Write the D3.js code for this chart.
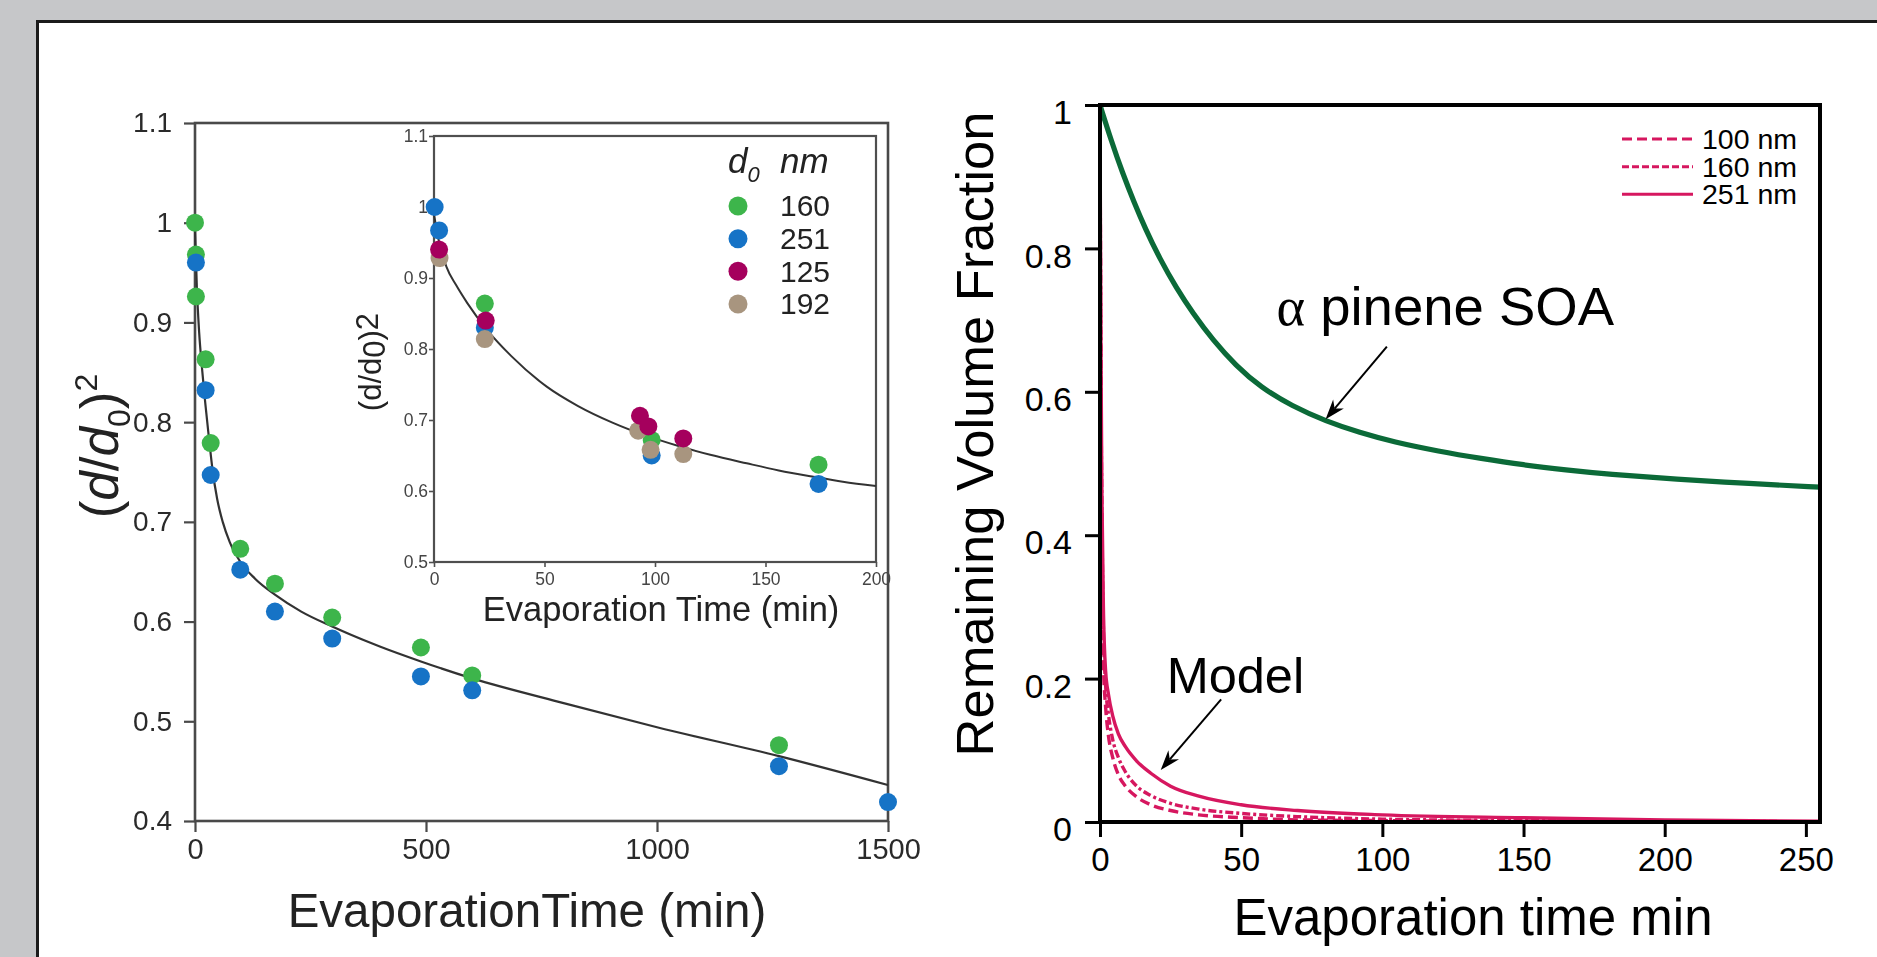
<!DOCTYPE html>
<html>
<head>
<meta charset="utf-8">
<script src="https://cdn.jsdelivr.net/npm/d3@7"></script>
<style>
  html, body { margin: 0; padding: 0; background: #c6c7c9; }
  svg { display: block; }
</style>
</head>
<body>
<svg id="fig" width="1877" height="957"></svg>
<script>
// ---------- Left panel: (d/d0)^2 against evaporation time ----------
const mainTicksY = [0.4, 0.5, 0.6, 0.7, 0.8, 0.9, 1.0, 1.1];
const mainTickLabelsY = ["0.4", "0.5", "0.6", "0.7", "0.8", "0.9", "1", "1.1"];
const mainTicksX = [0, 500, 1000, 1500];
const mainTickLabelsX = ["0", "500", "1000", "1500"];

// measured droplets, d0 = 160 nm and 251 nm
const mainTime160 = [0, 2, 2, 23, 34, 98, 173, 297, 489, 600, 1264];
const mainFrac160 = [1.000, 0.968, 0.926, 0.863, 0.779, 0.673, 0.638, 0.604, 0.574, 0.546, 0.476];
const mainTime251 = [2, 23, 34, 98, 173, 297, 489, 600, 1264, 1500];
const mainFrac251 = [0.960, 0.832, 0.747, 0.652, 0.610, 0.583, 0.545, 0.531, 0.455, 0.419];

// fitted curve through the long run
const mainFitTime = [0, 4, 9, 15, 22, 30, 38, 48, 60, 75, 98, 130, 173, 230, 297, 400, 489, 600, 800, 1000, 1264, 1500];
const mainFitFrac = [0.995, 0.935, 0.89, 0.855, 0.82, 0.785, 0.752, 0.723, 0.70, 0.68, 0.66, 0.643, 0.627, 0.61, 0.595, 0.575, 0.56, 0.543, 0.518, 0.494, 0.465, 0.436];

// inset: first 200 minutes, four initial diameters
const insetTicksY = [0.5, 0.6, 0.7, 0.8, 0.9, 1.0, 1.1];
const insetTickLabelsY = ["0.5", "0.6", "0.7", "0.8", "0.9", "1", "1.1"];
const insetTicksX = [0, 50, 100, 150, 200];
const insetTickLabelsX = ["0", "50", "100", "150", "200"];

const insetDiameters = ["160", "251", "125", "192"];
const insetColors = ["#3db54b", "#1673c6", "#a5005d", "#a8957f"];
const insetTime160 = [23, 98.5, 174];
const insetFrac160 = [0.864, 0.672, 0.637];
const insetTime251 = [0.3, 2.3, 23, 98.5, 174];
const insetFrac251 = [1.0, 0.967, 0.83, 0.65, 0.61];
const insetTime125 = [2.3, 23.4, 93.2, 97, 112.8];
const insetFrac125 = [0.94, 0.84, 0.706, 0.691, 0.674];
const insetTime192 = [2.5, 23, 92.4, 98, 112.8];
const insetFrac192 = [0.928, 0.814, 0.685, 0.658, 0.652];

const insetFitTime = [0, 2, 5.6, 10, 15, 24, 35, 51, 65, 81, 95, 111, 125, 141.5, 156, 171.7, 185, 200];
const insetFitFrac = [0.99, 0.955, 0.916, 0.89, 0.865, 0.827, 0.79, 0.747, 0.72, 0.696, 0.679, 0.663, 0.651, 0.639, 0.629, 0.62, 0.613, 0.607];

// ---------- Right panel: remaining volume fraction ----------
const rightTicksY = [0, 0.2, 0.4, 0.6, 0.8, 1];
const rightTickLabelsY = ["0", "0.2", "0.4", "0.6", "0.8", "1"];
const rightTicksX = [0, 50, 100, 150, 200, 250];
const rightTickLabelsX = ["0", "50", "100", "150", "200", "250"];

const soaTime = [0, 4, 8, 12, 16, 21, 27, 33, 40, 48, 57, 68, 80, 92, 104, 120, 135, 150, 165, 180, 204, 230, 255];
const soaFrac = [1.0, 0.950, 0.905, 0.865, 0.828, 0.787, 0.745, 0.709, 0.672, 0.637, 0.606, 0.580, 0.559, 0.543, 0.530, 0.517, 0.507, 0.498, 0.491, 0.485, 0.478, 0.472, 0.467];

const modelLabels = ["100 nm", "160 nm", "251 nm"];
const modelTime = [0, 0.3, 0.7, 1.2, 2, 3, 4.5, 6.5, 9, 13, 18, 25, 35, 50, 70, 100, 150, 200, 255];
const model100 = [1.0, 0.60, 0.35, 0.22, 0.16, 0.12, 0.09, 0.066, 0.05, 0.035, 0.024, 0.016, 0.010, 0.006, 0.003, 0.002, 0.001, 0.0005, 0];
const model160 = [1.0, 0.65, 0.42, 0.27, 0.19, 0.15, 0.115, 0.09, 0.07, 0.05, 0.037, 0.026, 0.018, 0.012, 0.0075, 0.004, 0.002, 0.001, 0.0005];
const model251 = [1.0, 0.68, 0.45, 0.30, 0.21, 0.178, 0.148, 0.123, 0.105, 0.085, 0.068, 0.050, 0.036, 0.024, 0.016, 0.010, 0.006, 0.003, 0.001];

const pink = "#d6175f";
const soaGreen = "#0b6a38";

// ---------- drawing ----------
const svg = d3.select("#fig");
const defs = svg.append("defs");
defs.append("filter").attr("id", "soft")
  .attr("x", "-5%").attr("y", "-5%").attr("width", "110%").attr("height", "110%")
  .append("feGaussianBlur").attr("stdDeviation", 0.65);

svg.append("rect").attr("width", 1877).attr("height", 957).attr("fill", "#c6c7c9");
svg.append("rect").attr("x", 37).attr("y", 21).attr("width", 1877 - 37).attr("height", 957 - 21).attr("fill", "#fff");
svg.append("path").attr("d", "M37.5,957 V21.5 H1877")
  .attr("fill", "none").attr("stroke", "#1b1b1b").attr("stroke-width", 3);

const zip = (a, b) => a.map((v, i) => [v, b[i]]);
const sans = "'Liberation Sans', Arial, sans-serif";

function styleAxis(g, size, fill, sw, col) {
  g.select(".domain").remove();
  g.selectAll(".tick line").attr("stroke", col).attr("stroke-width", sw);
  g.selectAll(".tick text").attr("font-family", sans).attr("font-size", size).attr("fill", fill);
}

// ===== left panel =====
const L = svg.append("g").attr("filter", "url(#soft)");
const mx = d3.scaleLinear().domain([0, 1500]).range([195, 888]);
const my = d3.scaleLinear().domain([0.4, 1.1]).range([821, 123]);
const grey = "#4a4a4a";

L.append("rect")
  .attr("x", mx(0)).attr("y", my(1.1))
  .attr("width", mx(1500) - mx(0)).attr("height", my(0.4) - my(1.1))
  .attr("fill", "#fff").attr("stroke", grey).attr("stroke-width", 2.6);

L.append("g").attr("transform", `translate(${mx(0)},0)`)
  .call(d3.axisLeft(my).tickValues(mainTicksY).tickFormat((d, i) => mainTickLabelsY[i]).tickSize(11).tickPadding(12))
  .call(g => styleAxis(g, 28, "#2b2b2b", 2.2, grey));
L.append("g").attr("transform", `translate(0,${my(0.4)})`)
  .call(d3.axisBottom(mx).tickValues(mainTicksX).tickFormat((d, i) => mainTickLabelsX[i]).tickSize(11).tickPadding(6))
  .call(g => styleAxis(g, 29, "#2b2b2b", 2.2, grey));

const mainLine = d3.line().x(d => mx(d[0])).y(d => my(d[1])).curve(d3.curveMonotoneX);
L.append("path").datum(zip(mainFitTime, mainFitFrac))
  .attr("d", mainLine).attr("fill", "none").attr("stroke", "#333").attr("stroke-width", 2.2);

[[mainTime160, mainFrac160, insetColors[0]], [mainTime251, mainFrac251, insetColors[1]]].forEach(([t, v, c]) => {
  L.append("g").selectAll("circle").data(zip(t, v)).join("circle")
    .attr("cx", d => mx(d[0])).attr("cy", d => my(d[1])).attr("r", 9).attr("fill", c);
});

// main axis titles
const yt = L.append("text")
  .attr("transform", `translate(118,${(my(0.4) + my(1.1)) / 2 - 26}) rotate(-90)`)
  .attr("text-anchor", "middle")
  .attr("font-family", sans).attr("font-size", 53).attr("fill", "#222");
yt.append("tspan").text("(");
yt.append("tspan").attr("font-style", "italic").text("d");
yt.append("tspan").text("/");
yt.append("tspan").attr("font-style", "italic").text("d");
yt.append("tspan").attr("font-size", 32).attr("dy", 12).text("0");
yt.append("tspan").attr("dy", -12).text(")");
yt.append("tspan").attr("font-size", 32).attr("dy", -21).text("2");

L.append("text").attr("x", 527).attr("y", 927).attr("text-anchor", "middle")
  .attr("font-family", sans).attr("font-size", 47.5).attr("fill", "#222")
  .text("EvaporationTime (min)");

// ----- inset -----
const ix = d3.scaleLinear().domain([0, 200]).range([434, 876]);
const iy = d3.scaleLinear().domain([0.5, 1.1]).range([562, 136]);
L.append("rect")
  .attr("x", ix(0)).attr("y", iy(1.1)).attr("width", ix(200) - ix(0)).attr("height", iy(0.5) - iy(1.1))
  .attr("fill", "#fff").attr("stroke", "#505050").attr("stroke-width", 2.2);
L.append("g").attr("transform", `translate(${ix(0)},0)`)
  .call(d3.axisLeft(iy).tickValues(insetTicksY).tickFormat((d, i) => insetTickLabelsY[i]).tickSize(5).tickPadding(1))
  .call(g => styleAxis(g, 17.5, "#444", 1.6, "#505050"));
L.append("g").attr("transform", `translate(0,${iy(0.5)})`)
  .call(d3.axisBottom(ix).tickValues(insetTicksX).tickFormat((d, i) => insetTickLabelsX[i]).tickSize(5).tickPadding(6))
  .call(g => styleAxis(g, 17.5, "#444", 1.6, "#505050"));

L.append("path").datum(zip(insetFitTime, insetFitFrac))
  .attr("d", d3.line().x(d => ix(d[0])).y(d => iy(d[1])).curve(d3.curveMonotoneX))
  .attr("fill", "none").attr("stroke", "#333").attr("stroke-width", 2);

const insetSets = [
  [insetTime160, insetFrac160, insetColors[0]],
  [insetTime251, insetFrac251, insetColors[1]],
  [insetTime192, insetFrac192, insetColors[3]],
  [insetTime125, insetFrac125, insetColors[2]]
];
insetSets.forEach(([t, v, c]) => {
  L.append("g").selectAll("circle").data(zip(t, v)).join("circle")
    .attr("cx", d => ix(d[0])).attr("cy", d => iy(d[1])).attr("r", 9).attr("fill", c);
});

const iyt = L.append("text")
  .attr("transform", `translate(381,362) rotate(-90)`)
  .attr("text-anchor", "middle")
  .attr("font-family", sans).attr("font-size", 31).attr("fill", "#222");
iyt.append("tspan").text("(d/d");
iyt.append("tspan").attr("dy", 4).text("0");
iyt.append("tspan").attr("dy", -4).text(")");
iyt.append("tspan").attr("dy", -3).text("2");

L.append("text").attr("x", 661).attr("y", 621).attr("text-anchor", "middle")
  .attr("font-family", sans).attr("font-size", 34.5).attr("fill", "#222")
  .text("Evaporation Time (min)");

// inset legend
const lg = L.append("g").attr("font-family", sans).attr("fill", "#222");
const lt = lg.append("text").attr("x", 728).attr("y", 173).attr("font-size", 35).attr("font-style", "italic");
lt.append("tspan").text("d");
lt.append("tspan").attr("font-size", 22).attr("dy", 9).text("0");
lg.append("text").attr("x", 780).attr("y", 173).attr("font-size", 35).attr("font-style", "italic").text("nm");
const legY = d3.scalePoint().domain(insetDiameters).range([206, 304]);
insetDiameters.forEach((name, i) => {
  lg.append("circle").attr("cx", 738).attr("cy", legY(name)).attr("r", 9.5).attr("fill", insetColors[i]);
  lg.append("text").attr("x", 780).attr("y", legY(name)).attr("dy", "0.34em")
    .attr("font-size", 30).text(name);
});

// ===== right panel =====
const R = svg.append("g");
const rx = d3.scaleLinear().domain([0, 255]).range([1100, 1820]);
const ry = d3.scaleLinear().domain([0, 1]).range([822, 105]);

const rLine = d3.line().x(d => rx(d[0])).y(d => ry(d[1])).curve(d3.curveMonotoneX);

// model curves
[[model100, "10,5"], [model160, "8,3,3,3"], [model251, null]].forEach(([v, dash]) => {
  R.append("path").datum(zip(modelTime, v))
    .attr("d", rLine).attr("fill", "none").attr("stroke", pink).attr("stroke-width", 3.4)
    .attr("stroke-dasharray", dash);
});

// alpha-pinene SOA curve
R.append("path").datum(zip(soaTime, soaFrac))
  .attr("d", d3.line().x(d => rx(d[0])).y(d => ry(d[1])).curve(d3.curveBasis))
  .attr("fill", "none").attr("stroke", soaGreen).attr("stroke-width", 5.2);

R.append("rect").attr("x", rx(0)).attr("y", ry(1)).attr("width", rx(255) - rx(0)).attr("height", ry(0) - ry(1))
  .attr("fill", "none").attr("stroke", "#000").attr("stroke-width", 4);

R.append("g").attr("transform", `translate(${rx(0)},0)`)
  .call(d3.axisLeft(ry).tickValues(rightTicksY).tickFormat((d, i) => rightTickLabelsY[i]).tickSize(15).tickPadding(13))
  .call(g => { styleAxis(g, 34, "#000", 3, "#000"); g.selectAll(".tick text").attr("dy", "0.55em"); });
R.append("g").attr("transform", `translate(0,${ry(0)})`)
  .call(d3.axisBottom(rx).tickValues(rightTicksX).tickFormat((d, i) => rightTickLabelsX[i]).tickSize(15).tickPadding(11))
  .call(g => styleAxis(g, 33, "#000", 3, "#000"));

R.append("text")
  .attr("transform", `translate(993,434) rotate(-90)`).attr("text-anchor", "middle")
  .attr("font-family", sans).attr("font-size", 52.5).text("Remaining Volume Fraction");
R.append("text").attr("x", 1473).attr("y", 935).attr("text-anchor", "middle")
  .attr("font-family", sans).attr("font-size", 51).text("Evaporation time min");

// legend for model curves
const rLegY = d3.scalePoint().domain(modelLabels).range([139, 194.3]);
const dashes = ["10,5", "7,3", null];
modelLabels.forEach((name, i) => {
  R.append("line").attr("x1", 1622).attr("x2", 1693).attr("y1", rLegY(name)).attr("y2", rLegY(name))
    .attr("stroke", pink).attr("stroke-width", 3).attr("stroke-dasharray", dashes[i]);
  R.append("text").attr("x", 1702).attr("y", rLegY(name)).attr("dy", 10)
    .attr("font-family", sans).attr("font-size", 28.5).text(name);
});

// annotations with arrows (data coordinates)
function arrow(fromT, fromV, toT, toV) {
  const x1 = rx(fromT), y1 = ry(fromV), x2 = rx(toT), y2 = ry(toV);
  const a = Math.atan2(y2 - y1, x2 - x1);
  const len = 20, hw = 7, notch = 14;
  const p = (d, w) => [x2 - d * Math.cos(a) - w * Math.sin(a), y2 - d * Math.sin(a) + w * Math.cos(a)];
  const back = p(notch, 0);
  R.append("line").attr("x1", x1).attr("y1", y1).attr("x2", back[0]).attr("y2", back[1])
    .attr("stroke", "#000").attr("stroke-width", 2);
  R.append("path")
    .attr("d", `M${x2},${y2} L${p(len, hw).join(",")} L${back.join(",")} L${p(len, -hw).join(",")} Z`)
    .attr("fill", "#000");
}
arrow(101.6, 0.663, 79.9, 0.5617);
arrow(42.9, 0.171, 21.5, 0.0725);

const at = R.append("text").attr("x", rx(62.5)).attr("y", ry(0.6925)).attr("font-family", sans).attr("font-size", 54.5);
at.append("tspan").attr("font-family", "'Liberation Serif', 'Times New Roman', serif").text("α");
at.append("tspan").text(" pinene SOA");
R.append("text").attr("x", rx(23.6)).attr("y", ry(0.180)).attr("font-family", sans).attr("font-size", 50.5).text("Model");
</script>
</body>
</html>
